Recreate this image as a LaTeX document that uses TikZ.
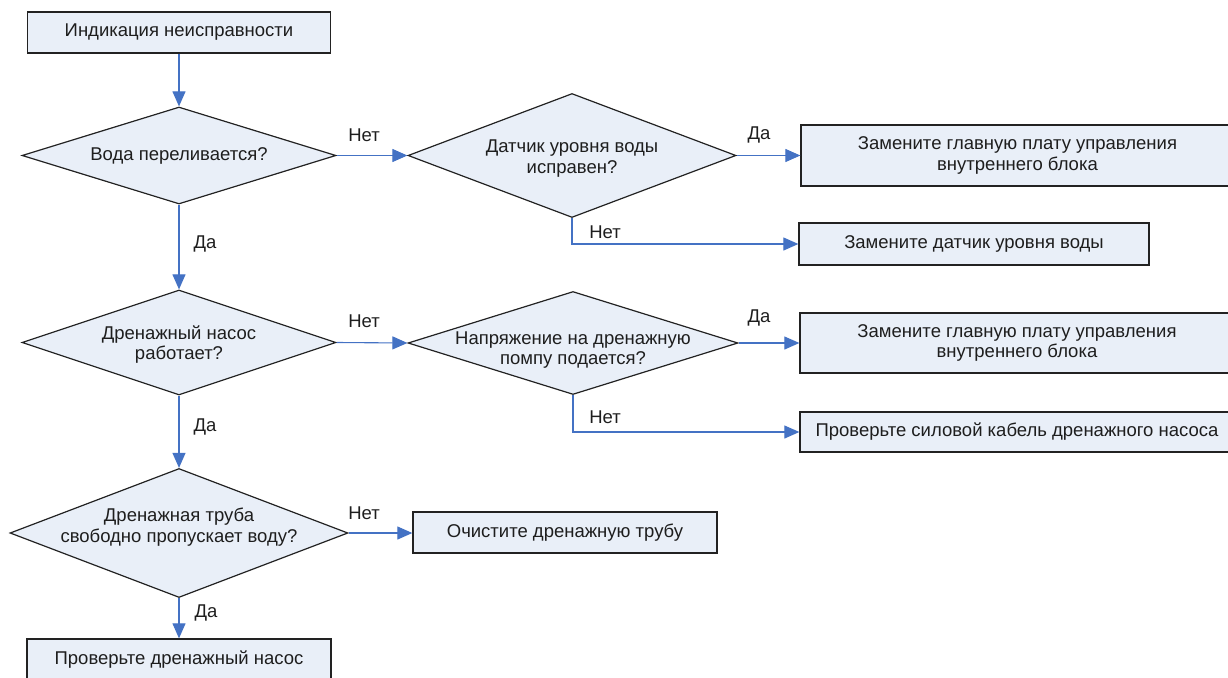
\documentclass[tikz,border=0pt]{standalone}
\usepackage{fontspec}
\setmainfont{Liberation Sans}
\usetikzlibrary{shapes.geometric,arrows.meta}
\definecolor{boxfill}{HTML}{E9EFF8}
\definecolor{boxline}{HTML}{222222}
\definecolor{arrowblue}{HTML}{4472C4}
\definecolor{txt}{HTML}{1E1E1E}
\tikzset{
  x=1pt,y=-1pt,
  every node/.style={font=\fontsize{18.5}{20.5}\selectfont,text=txt},
  stepbox/.style={draw=boxline,fill=boxfill,line width=1.3pt,rectangle,inner sep=0pt,align=center},
  dia/.style={draw=boxline,fill=boxfill,line width=1.2pt,diamond,inner sep=0pt},
  dtext/.style={align=center,inner sep=0pt},
  lbl/.style={inner sep=0pt},
  conn/.style={draw=arrowblue,line width=1.1pt,-{Triangle[length=15pt,width=13pt]}},
}
\begin{document}
\begin{tikzpicture}
\useasboundingbox (0,0) rectangle (1228,677);
\clip (0,0) rectangle (1228,677);
% boxes
\node[stepbox,minimum width=303pt,minimum height=41pt] (b1) at (179,32.5) {Индикация неисправности};
\node[stepbox,minimum width=433pt,minimum height=61pt] (b2) at (1017.5,155.5) {Замените главную плату управления\\внутреннего блока};
\node[stepbox,minimum width=350pt,minimum height=42pt] (b3) at (974,244) {Замените датчик уровня воды};
\node[stepbox,minimum width=434pt,minimum height=60pt] (b4) at (1017,343) {Замените главную плату управления\\внутреннего блока};
\node[stepbox,minimum width=434pt,minimum height=40pt] (b5) at (1017,432) {Проверьте силовой кабель дренажного насоса};
\node[stepbox,minimum width=304pt,minimum height=41pt] (b6) at (565,532.5) {Очистите дренажную трубу};
\node[stepbox,minimum width=304pt,minimum height=41pt] (b7) at (179,659.5) {Проверьте дренажный насос};
% diamonds
\node[dia,minimum width=314pt,minimum height=97pt] (d1) at (179,155.5) {};
\node[dtext] (d1t) at (179,155.5) {Вода переливается?};
\node[dia,minimum width=328pt,minimum height=124pt] (d2) at (572,155.5) {};
\node[dtext] (d2t) at (572,158.5) {Датчик уровня воды\\исправен?};
\node[dia,minimum width=314pt,minimum height=105pt] (d3) at (179,342.5) {};
\node[dtext] (d3t) at (179,344.5) {Дренажный насос\\работает?};
\node[dia,minimum width=330pt,minimum height=103pt] (d4) at (573,343) {};
\node[dtext] (d4t) at (573,350) {Напряжение на дренажную\\помпу подается?};
\node[dia,minimum width=338pt,minimum height=129pt] (d5) at (179,533) {};
\node[dtext] (d5t) at (179,527) {Дренажная труба\\свободно пропускает воду?};
% connectors
\draw[conn] (b1.south) -- (d1.north);
\draw[conn] (d1.east) -- (d2.west);
\draw[conn] (d2.east) -- (d2.east -| b2.west);
\draw[conn] (d2.south) |- (b3.west);
\draw[conn] (d1.south) -- (d3.north);
\draw[conn] (d3.east) -- (d4.west);
\draw[conn] (d4.east) -- (d4.east -| b4.west);
\draw[conn] (d4.south) |- (b5.west);
\draw[conn] (d3.south) -- (d5.north);
\draw[conn] (d5.east) -- (d5.east -| b6.west);
\draw[conn] (d5.south) -- (b7.north);
% labels
\node[lbl] (l1) at (364,135) {Нет};
\node[lbl] (l2) at (759,135) {Да};
\node[lbl] (l3) at (605,232) {Нет};
\node[lbl] (l4) at (205,244) {Да};
\node[lbl] (l5) at (364,321) {Нет};
\node[lbl] (l6) at (759,318) {Да};
\node[lbl] (l7) at (605,417) {Нет};
\node[lbl] (l8) at (205,427) {Да};
\node[lbl] (l9) at (364,513) {Нет};
\node[lbl] (l10) at (206,613) {Да};
\end{tikzpicture}
\end{document}
